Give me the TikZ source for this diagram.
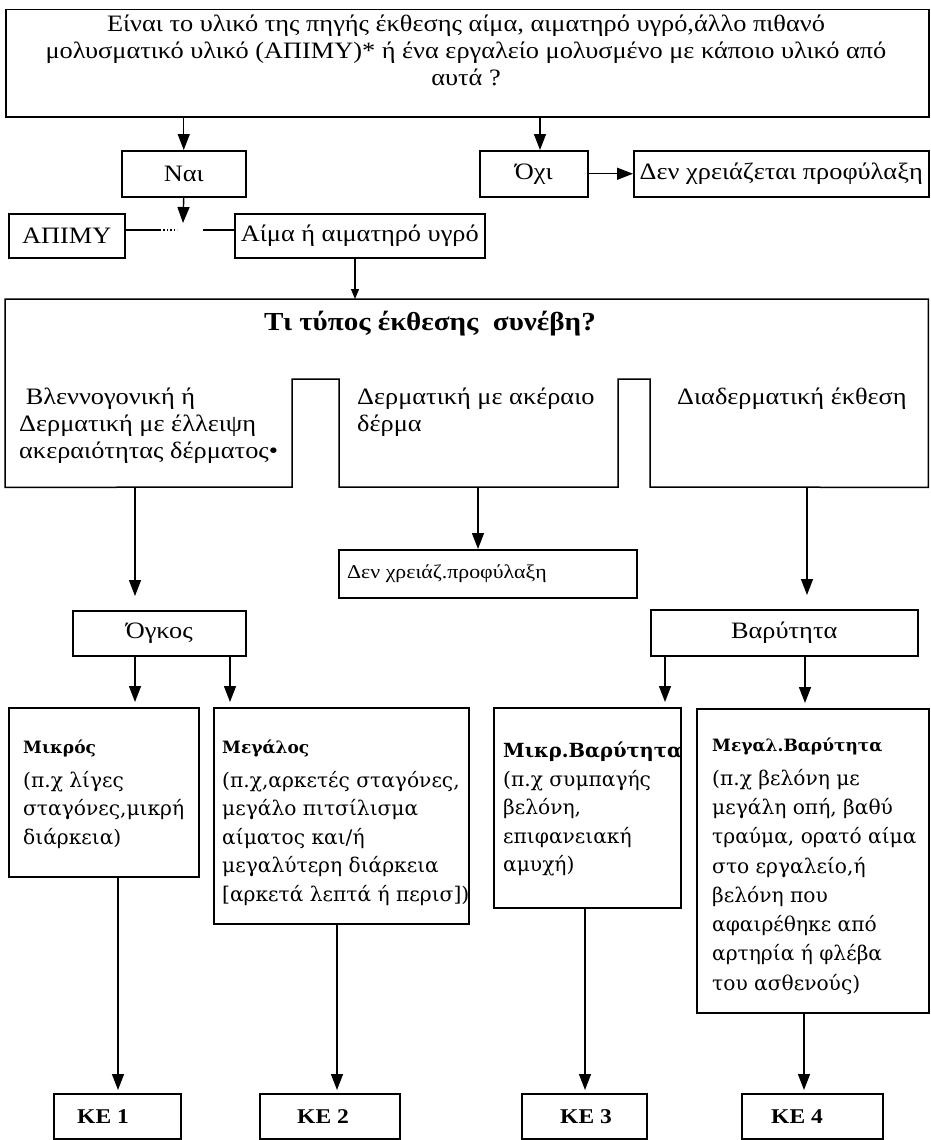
\documentclass[tikz,border=0pt]{standalone}
\usepackage{fontspec}
\setmainfont{Liberation Serif}[FakeStretch=1.12]
\newfontfamily\lowfont{DejaVu Serif}
\usetikzlibrary{arrows.meta}
\begin{document}
\begin{tikzpicture}[x=1pt,y=-1pt,
  box/.style={draw, line width=1.5pt, inner sep=0pt, anchor=north west, font=\fontsize{23.5}{27}\selectfont},
  txt/.style={inner sep=0pt, font=\fontsize{23.5}{27}\selectfont},
  ltxt/.style={inner sep=0pt, anchor=north west, align=left, font=\lowfont\fontsize{20.2}{28.5}\selectfont},
  ke/.style={inner sep=0pt, anchor=west, font=\bfseries\fontsize{21}{24}\selectfont},
  arr/.style={line width=1.4pt, -{Triangle[width=12pt,length=16pt]}},
  arrs/.style={line width=1.2pt, -{Triangle[width=8pt,length=10pt]}},
  link/.style={line width=1.4pt},
]
\useasboundingbox (0,0) rectangle (930,1140);

% question box
\node[box, minimum width=923pt, minimum height=107pt] (q) at (5,9) {};
\node[txt, align=center] (qt) at (466,50) {Είναι το υλικό της πηγής έκθεσης αίμα, αιματηρό υγρό,άλλο πιθανό\\μολυσματικό υλικό (ΑΠΙΜΥ)* ή ένα εργαλείο μολυσμένο με κάποιο υλικό από\\αυτά ?};

% yes / no
\node[box, minimum width=124pt, minimum height=46pt] (nai) at (121,150) {Ναι};
\node[box, minimum width=108pt, minimum height=46pt] (ochi) at (479,150) {Όχι};
\node[box, minimum width=295pt, minimum height=46pt] (den) at (633,150) {Δεν χρειάζεται προφύλαξη};
\coordinate (xo) at (540,0);
\draw[arr] (q.south -| nai.north) -- (nai.north);
\draw[arr] (q.south -| xo) -- (ochi.north -| xo);
\draw[arr] (ochi.east) -- (den.west);

% APIMY / blood
\node[box, minimum width=116pt, minimum height=44pt] (apimy) at (8,213) {ΑΠΙΜΥ};
\node[box, minimum width=250pt, minimum height=44pt] (aima) at (234,213) {Αίμα ή αιματηρό υγρό};
\coordinate (tipn) at (183,223);
\draw[arr] (nai.south) -- (tipn);
\coordinate (la) at (160,230);
\coordinate (lb) at (177,230);
\coordinate (lc) at (203,230);
\draw[link] (apimy.east |- la) -- (la);
\draw[link, dotted] (la) -- (lb);
\draw[link] (lc) -- (aima.west |- lc);

% exposure type region
\node[inner sep=0pt, minimum width=923pt, minimum height=188pt, anchor=north west] (tb) at (5,299) {};
\coordinate (xa) at (355,0);
\draw[arrs] (aima.south -| xa) -- (tb.north -| xa);
\draw[line width=1.5pt] (tb.north west) -- (tb.north east) -- (tb.south east)
  -- (650,487) -- (650,379) -- (618,379) -- (618,487) -- (339,487) -- (339,379)
  -- (292,379) -- (292,487) -- (tb.south west) -- cycle;
\node[inner sep=0pt, font=\bfseries\fontsize{26}{30}\selectfont] (title) at (430,324) {Τι τύπος έκθεσης\ \ συνέβη?};
\node[txt, anchor=north west, align=left] (t1) at (19,388) {\ Βλεννογονική ή\\Δερματική με έλλειψη\\ακεραιότητας δέρματος•};
\node[txt, anchor=north west, align=left] (t2) at (357,388) {Δερματική με ακέραιο\\δέρμα};
\node[txt, anchor=north west, align=left] (t3) at (677,388) {Διαδερματική έκθεση};
\coordinate (c1) at (135,487);
\coordinate (c2) at (478,487);
\coordinate (c3) at (807,487);

% second level
\node[box, minimum width=298pt, minimum height=48pt] (den2) at (338,549) {};
\node[inner sep=0pt, anchor=west, font=\fontsize{19.5}{22}\selectfont] (den2t) at ([xshift=9pt]den2.west) {Δεν χρειάζ.προφύλαξη};
\node[box, minimum width=173pt, minimum height=45pt] (ogkos) at (72,610) {Όγκος};
\node[box, minimum width=267pt, minimum height=46pt] (bar) at (650,609) {Βαρύτητα};
\draw[arr, shorten >=14pt] (c1) -- (c1 |- ogkos.north);
\draw[arr] (c2) -- (c2 |- den2.north);
\draw[arr, shorten >=14pt] (c3) -- (c3 |- bar.north);

% third level
\node[box, minimum width=190pt, minimum height=169pt] (mik) at (8,707) {};
\node[box, minimum width=255pt, minimum height=216pt] (meg) at (213,707) {};
\node[box, minimum width=187pt, minimum height=200pt] (mikb) at (493,707) {};
\node[box, minimum width=232pt, minimum height=304pt] (megb) at (696,708) {};
\coordinate (o1) at (135,0);
\coordinate (o2) at (230,0);
\coordinate (b1) at (665,0);
\coordinate (b2) at (805,0);
\draw[arr, shorten >=5pt] (ogkos.south -| o1) -- (mik.north -| o1);
\draw[arr, shorten >=5pt] (ogkos.south -| o2) -- (meg.north -| o2);
\draw[arr, shorten >=5pt] (bar.south -| b1) -- (mikb.north -| b1);
\draw[arr, shorten >=5pt] (bar.south -| b2) -- (megb.north -| b2);

\node[ltxt] (mikt) at (23,740) {{\bfseries\fontsize{17}{20}\selectfont Μικρός}\\[5pt](π.χ λίγες\\σταγόνες,μικρή\\διάρκεια)};
\node[ltxt] (megt) at (222,740) {{\bfseries\fontsize{17}{20}\selectfont Μεγάλος}\\[5pt](π.χ,αρκετές σταγόνες,\\μεγάλο πιτσίλισμα\\αίματος και/ή\\μεγαλύτερη διάρκεια\\{[}αρκετά λεπτά ή περισ{]})};
\node[ltxt] (mikbt) at (503,742) {{\bfseries\fontsize{19.5}{24}\selectfont Μικρ.Βαρύτητα}\\(π.χ συμπαγής\\βελόνη,\\επιφανειακή\\αμυχή)};
\node[ltxt, font=\lowfont\fontsize{20.2}{29.3}\selectfont] (megbt) at (712,738) {{\bfseries\fontsize{17}{20}\selectfont Μεγαλ.Βαρύτητα}\\[4pt](π.χ βελόνη με\\μεγάλη οπή, βαθύ\\τραύμα, ορατό αίμα\\στο εργαλείο,ή\\βελόνη που\\αφαιρέθηκε από\\αρτηρία ή φλέβα\\του ασθενούς)};

% result boxes
\node[box, minimum width=127pt, minimum height=45pt] (ke1) at (53,1093) {};
\node[box, minimum width=140pt, minimum height=45pt] (ke2) at (259,1093) {};
\node[box, minimum width=125pt, minimum height=45pt] (ke3) at (521,1093) {};
\node[box, minimum width=141pt, minimum height=45pt] (ke4) at (741,1093) {};
\node[ke] (ke1t) at ([xshift=24pt]ke1.west) {ΚΕ 1};
\node[ke] (ke2t) at ([xshift=38pt]ke2.west) {ΚΕ 2};
\node[ke] (ke3t) at ([xshift=39pt]ke3.west) {ΚΕ 3};
\node[ke] (ke4t) at ([xshift=30pt]ke4.west) {ΚΕ 4};
\coordinate (k1) at (118,0);
\coordinate (k2) at (337,0);
\coordinate (k3) at (585,0);
\coordinate (k4) at (804,0);
\draw[arr, shorten >=3pt] (mik.south -| k1) -- (ke1.north -| k1);
\draw[arr, shorten >=3pt] (meg.south -| k2) -- (ke2.north -| k2);
\draw[arr, shorten >=3pt] (mikb.south -| k3) -- (ke3.north -| k3);
\draw[arr, shorten >=3pt] (megb.south -| k4) -- (ke4.north -| k4);
\end{tikzpicture}
\end{document}
